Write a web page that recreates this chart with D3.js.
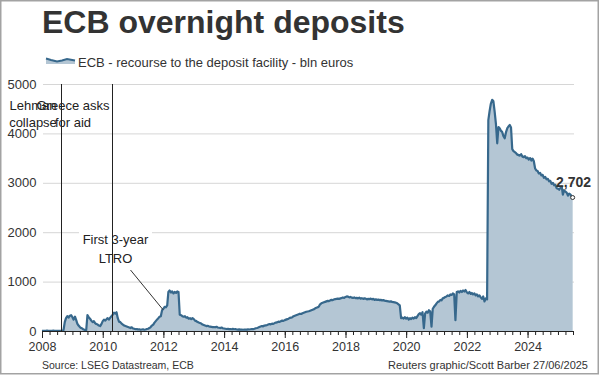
<!DOCTYPE html>
<html>
<head>
<meta charset="utf-8">
<script src="https://cdn.jsdelivr.net/npm/d3@7"></script>
<style>
  body { margin: 0; background: #fff; }
  svg { display: block; font-family: "Liberation Sans", Arial, sans-serif; }
</style>
</head>
<body>
<div id="chart"></div>
<script>
// Deposit facility recourse, bln euros, read at the 1st and 16th of each month
const dep2008 = [2, 5, 1, 3, 8, 2, 1, 4, 2, 6, 1, 3, 5, 1, 2, 4, 3, 20, 180, 260, 300, 270, 310, 320];
const dep2009 = [280, 230, 290, 220, 150, 110, 80, 60, 50, 30, 20, 15, 320, 280, 250, 210, 180, 200, 160, 140, 130, 110, 100, 140];
const dep2010 = [200, 230, 210, 240, 260, 230, 270, 300, 330, 370, 350, 380, 260, 190, 180, 150, 130, 110, 100, 90, 80, 70, 60, 75];
const dep2011 = [50, 45, 35, 40, 30, 35, 25, 30, 35, 25, 30, 40, 45, 60, 80, 110, 130, 170, 200, 230, 260, 290, 300, 420];
const dep2012 = [450, 490, 480, 520, 790, 820, 780, 800, 760, 790, 770, 800, 790, 330, 320, 300, 290, 300, 270, 280, 250, 260, 240, 260];
const dep2013 = [240, 210, 200, 180, 170, 160, 150, 130, 120, 110, 100, 105, 95, 90, 85, 80, 80, 75, 85, 70, 65, 60, 70, 55];
const dep2014 = [50, 45, 40, 45, 38, 40, 36, 42, 35, 38, 30, 28, 32, 27, 30, 25, 28, 30, 27, 32, 30, 35, 40, 38];
const dep2015 = [45, 55, 60, 70, 80, 90, 100, 95, 110, 115, 120, 130, 140, 135, 150, 145, 160, 170, 175, 190, 185, 200, 210, 205];
const dep2016 = [220, 230, 240, 250, 265, 270, 280, 300, 310, 320, 330, 340, 350, 345, 360, 370, 380, 390, 395, 400, 410, 420, 430, 440];
const dep2017 = [460, 470, 480, 500, 540, 560, 570, 580, 590, 600, 610, 605, 620, 630, 625, 640, 645, 650, 655, 650, 660, 670, 680, 670];
const dep2018 = [690, 700, 695, 680, 690, 675, 670, 680, 665, 670, 660, 675, 655, 665, 650, 660, 655, 640, 650, 645, 655, 640, 650, 630];
const dep2019 = [640, 630, 635, 625, 630, 620, 625, 615, 610, 605, 600, 595, 600, 590, 585, 580, 570, 560, 540, 520, 260, 270, 250, 280];
const dep2020 = [250, 270, 230, 260, 240, 270, 250, 280, 260, 300, 340, 360, 330, 380, 60, 350, 390, 370, 420, 400, 90, 450, 490, 520];
const dep2021 = [560, 590, 600, 630, 620, 660, 670, 690, 700, 720, 710, 740, 730, 760, 740, 220, 790, 800, 780, 810, 790, 820, 800, 830];
const dep2022 = [780, 760, 790, 750, 770, 740, 760, 720, 740, 700, 720, 680, 650, 700, 600, 660, 640, 4270, 4450, 4600, 4680, 4650, 4440, 4200];
const dep2023 = [3800, 4130, 4100, 4050, 4030, 3950, 3900, 4020, 4100, 4140, 4170, 4120, 3680, 3640, 3620, 3600, 3570, 3560, 3550, 3580, 3530, 3520, 3540, 3500];
const dep2024 = [3510, 3470, 3500, 3450, 3490, 3440, 3290, 3250, 3240, 3190, 3200, 3150, 3160, 3100, 3120, 3070, 3080, 3030, 3040, 2980, 3000, 2950, 2960, 2890];
const dep2025 = [2880, 2860, 2900, 2920, 2760, 2850, 2820, 2800, 2740, 2780, 2760, 2720];

const yearRows = [dep2008, dep2009, dep2010, dep2011, dep2012, dep2013, dep2014, dep2015, dep2016,
  dep2017, dep2018, dep2019, dep2020, dep2021, dep2022, dep2023, dep2024, dep2025];
const firstYear = 2008;
const lastDate = "2025-06-27";
const lastValue = 2702;

const yTicks = [0, 1000, 2000, 3000, 4000, 5000];
const xLabelYears = [2008, 2010, 2012, 2014, 2016, 2018, 2020, 2022, 2024];

const eventDates = ["2008-08-12", "2010-04-18"];
const eventLabels = [["Lehman", "collapse"], ["Greece asks", "for aid"]];
const ltroLabel = ["First 3-year", "LTRO"];
const ltroDate = "2011-12-28";

const parse = d3.timeParse("%Y-%m-%d");

// Build the series
const data = [];
yearRows.forEach((row, yi) => {
  row.forEach((v, i) => {
    const month = Math.floor(i / 2);
    const day = i % 2 ? 16 : 1;
    data.push({ date: new Date(firstYear + yi, month, day), value: v });
  });
});
data.push({ date: parse(lastDate), value: lastValue });

const width = 600;
const height = 376;

const svg = d3.select("#chart")
  .append("svg")
  .attr("width", width)
  .attr("height", height);

// Frame
svg.append("rect")
  .attr("x", 0.75).attr("y", 0.75)
  .attr("width", 597.5).attr("height", 373)
  .attr("fill", "#fff")
  .attr("stroke", "#a3a3a3")
  .attr("stroke-width", 1.5);

const x = d3.scaleTime()
  .domain([new Date(2008, 0, 1), new Date(2025, 6, 1)])
  .range([42, 573]);

const y = d3.scaleLinear()
  .domain([0, 5000])
  .range([331, 84]);

// Title
svg.append("text")
  .attr("x", 42).attr("y", 33)
  .attr("font-size", 32)
  .attr("font-weight", "bold")
  .attr("fill", "#333")
  .text("ECB overnight deposits");

// Legend
const legendLine = [[46, 58.5], [51, 60], [57, 61.5], [62, 60.5], [67, 59], [75, 60.5]];
svg.append("path")
  .attr("d", d3.area().x(d => d[0]).y0(64).y1(d => d[1])(legendLine))
  .attr("fill", "#b4c6d4");
svg.append("path")
  .attr("d", d3.line()(legendLine))
  .attr("fill", "none")
  .attr("stroke", "#37688c")
  .attr("stroke-width", 2);
svg.append("text")
  .attr("x", 78).attr("y", 67)
  .attr("font-size", 13)
  .attr("fill", "#333")
  .text("ECB - recourse to the deposit facility - bln euros");

// Gridlines
svg.append("g")
  .selectAll("line")
  .data(yTicks.filter(d => d > 0))
  .join("line")
  .attr("x1", 43).attr("x2", 574)
  .attr("y1", d => y(d) + 0.5).attr("y2", d => y(d) + 0.5)
  .attr("stroke", "#d6d6d6");

// Y axis labels
const yAxis = svg.append("g")
  .attr("transform", "translate(42,0)")
  .call(d3.axisLeft(y).tickValues(yTicks).tickSize(0).tickPadding(5.5).tickFormat(d3.format("d")));
yAxis.select(".domain").remove();
yAxis.selectAll("text")
  .attr("font-size", 13)
  .attr("font-family", "Liberation Sans, Arial, sans-serif")
  .attr("fill", "#333");

// White box behind LTRO annotation
svg.append("rect")
  .attr("x", 79).attr("y", 228)
  .attr("width", 73).attr("height", 40)
  .attr("fill", "#fff");

// Area and line
svg.append("path")
  .datum(data)
  .attr("d", d3.area().x(d => x(d.date)).y0(y(0)).y1(d => y(d.value)))
  .attr("fill", "#b4c6d4");

svg.append("path")
  .datum(data)
  .attr("d", d3.line().x(d => x(d.date)).y(d => y(d.value)))
  .attr("fill", "none")
  .attr("stroke", "#37688c")
  .attr("stroke-width", 2.2)
  .attr("stroke-linejoin", "round");

// X axis: quarterly minor ticks and biennial labels
const minorAxis = svg.append("g")
  .attr("transform", "translate(0,331)")
  .call(d3.axisBottom(x)
    .tickValues(d3.timeMonth.every(3).range(new Date(2008, 0, 1), new Date(2025, 6, 2)))
    .tickSize(4)
    .tickSizeOuter(0)
    .tickFormat(""));
minorAxis.selectAll("line, path").attr("stroke", "#222");

const majorAxis = svg.append("g")
  .attr("transform", "translate(0,331)")
  .call(d3.axisBottom(x)
    .tickValues(xLabelYears.map(yr => new Date(yr, 0, 1)))
    .tickSize(7)
    .tickPadding(4)
    .tickFormat(d3.timeFormat("%Y")));
majorAxis.select(".domain").remove();
majorAxis.selectAll("line").attr("stroke", "#222");
majorAxis.selectAll("text")
  .attr("font-size", 12.5)
  .attr("font-family", "Liberation Sans, Arial, sans-serif")
  .attr("fill", "#333");

// Event lines
svg.append("g")
  .selectAll("line")
  .data(eventDates)
  .join("line")
  .attr("x1", d => Math.round(x(parse(d))) + 0.5)
  .attr("x2", d => Math.round(x(parse(d))) + 0.5)
  .attr("y1", y(5000))
  .attr("y2", y(0))
  .attr("stroke", "#222")
  .attr("stroke-width", 1);

// Event labels (they overlap in the original graphic too)
const eventCenters = [33, 73];
eventLabels.forEach((lines, i) => {
  const t = svg.append("text")
    .attr("text-anchor", "middle")
    .attr("font-size", 13)
    .attr("fill", "#222");
  lines.forEach((line, j) => {
    t.append("tspan")
      .attr("x", eventCenters[i])
      .attr("y", 110 + j * 16.5)
      .text(line);
  });
});

// LTRO annotation
const ltroText = svg.append("text")
  .attr("text-anchor", "middle")
  .attr("font-size", 13)
  .attr("fill", "#222");
ltroLabel.forEach((line, j) => {
  ltroText.append("tspan")
    .attr("x", 115.5)
    .attr("y", 244 + j * 19)
    .text(line);
});
svg.append("line")
  .attr("x1", 130.5).attr("y1", 270)
  .attr("x2", x(parse(ltroDate))).attr("y2", y(430))
  .attr("stroke", "#333")
  .attr("stroke-width", 1);

// Last value
const last = data[data.length - 1];
svg.append("circle")
  .attr("cx", x(last.date))
  .attr("cy", y(last.value))
  .attr("r", 2)
  .attr("fill", "#fff")
  .attr("stroke", "#333")
  .attr("stroke-width", 1);
svg.append("text")
  .attr("x", 591).attr("y", 187)
  .attr("text-anchor", "end")
  .attr("font-size", 14)
  .attr("font-weight", "bold")
  .attr("fill", "#333")
  .text(d3.format(",")(lastValue));

// Footer
svg.append("text")
  .attr("x", 42).attr("y", 369)
  .attr("font-size", 10.5)
  .attr("fill", "#333")
  .text("Source: LSEG Datastream, ECB");
svg.append("text")
  .attr("x", 588).attr("y", 369)
  .attr("text-anchor", "end")
  .attr("font-size", 11)
  .attr("fill", "#333")
  .text("Reuters graphic/Scott Barber 27/06/2025");
</script>
</body>
</html>
